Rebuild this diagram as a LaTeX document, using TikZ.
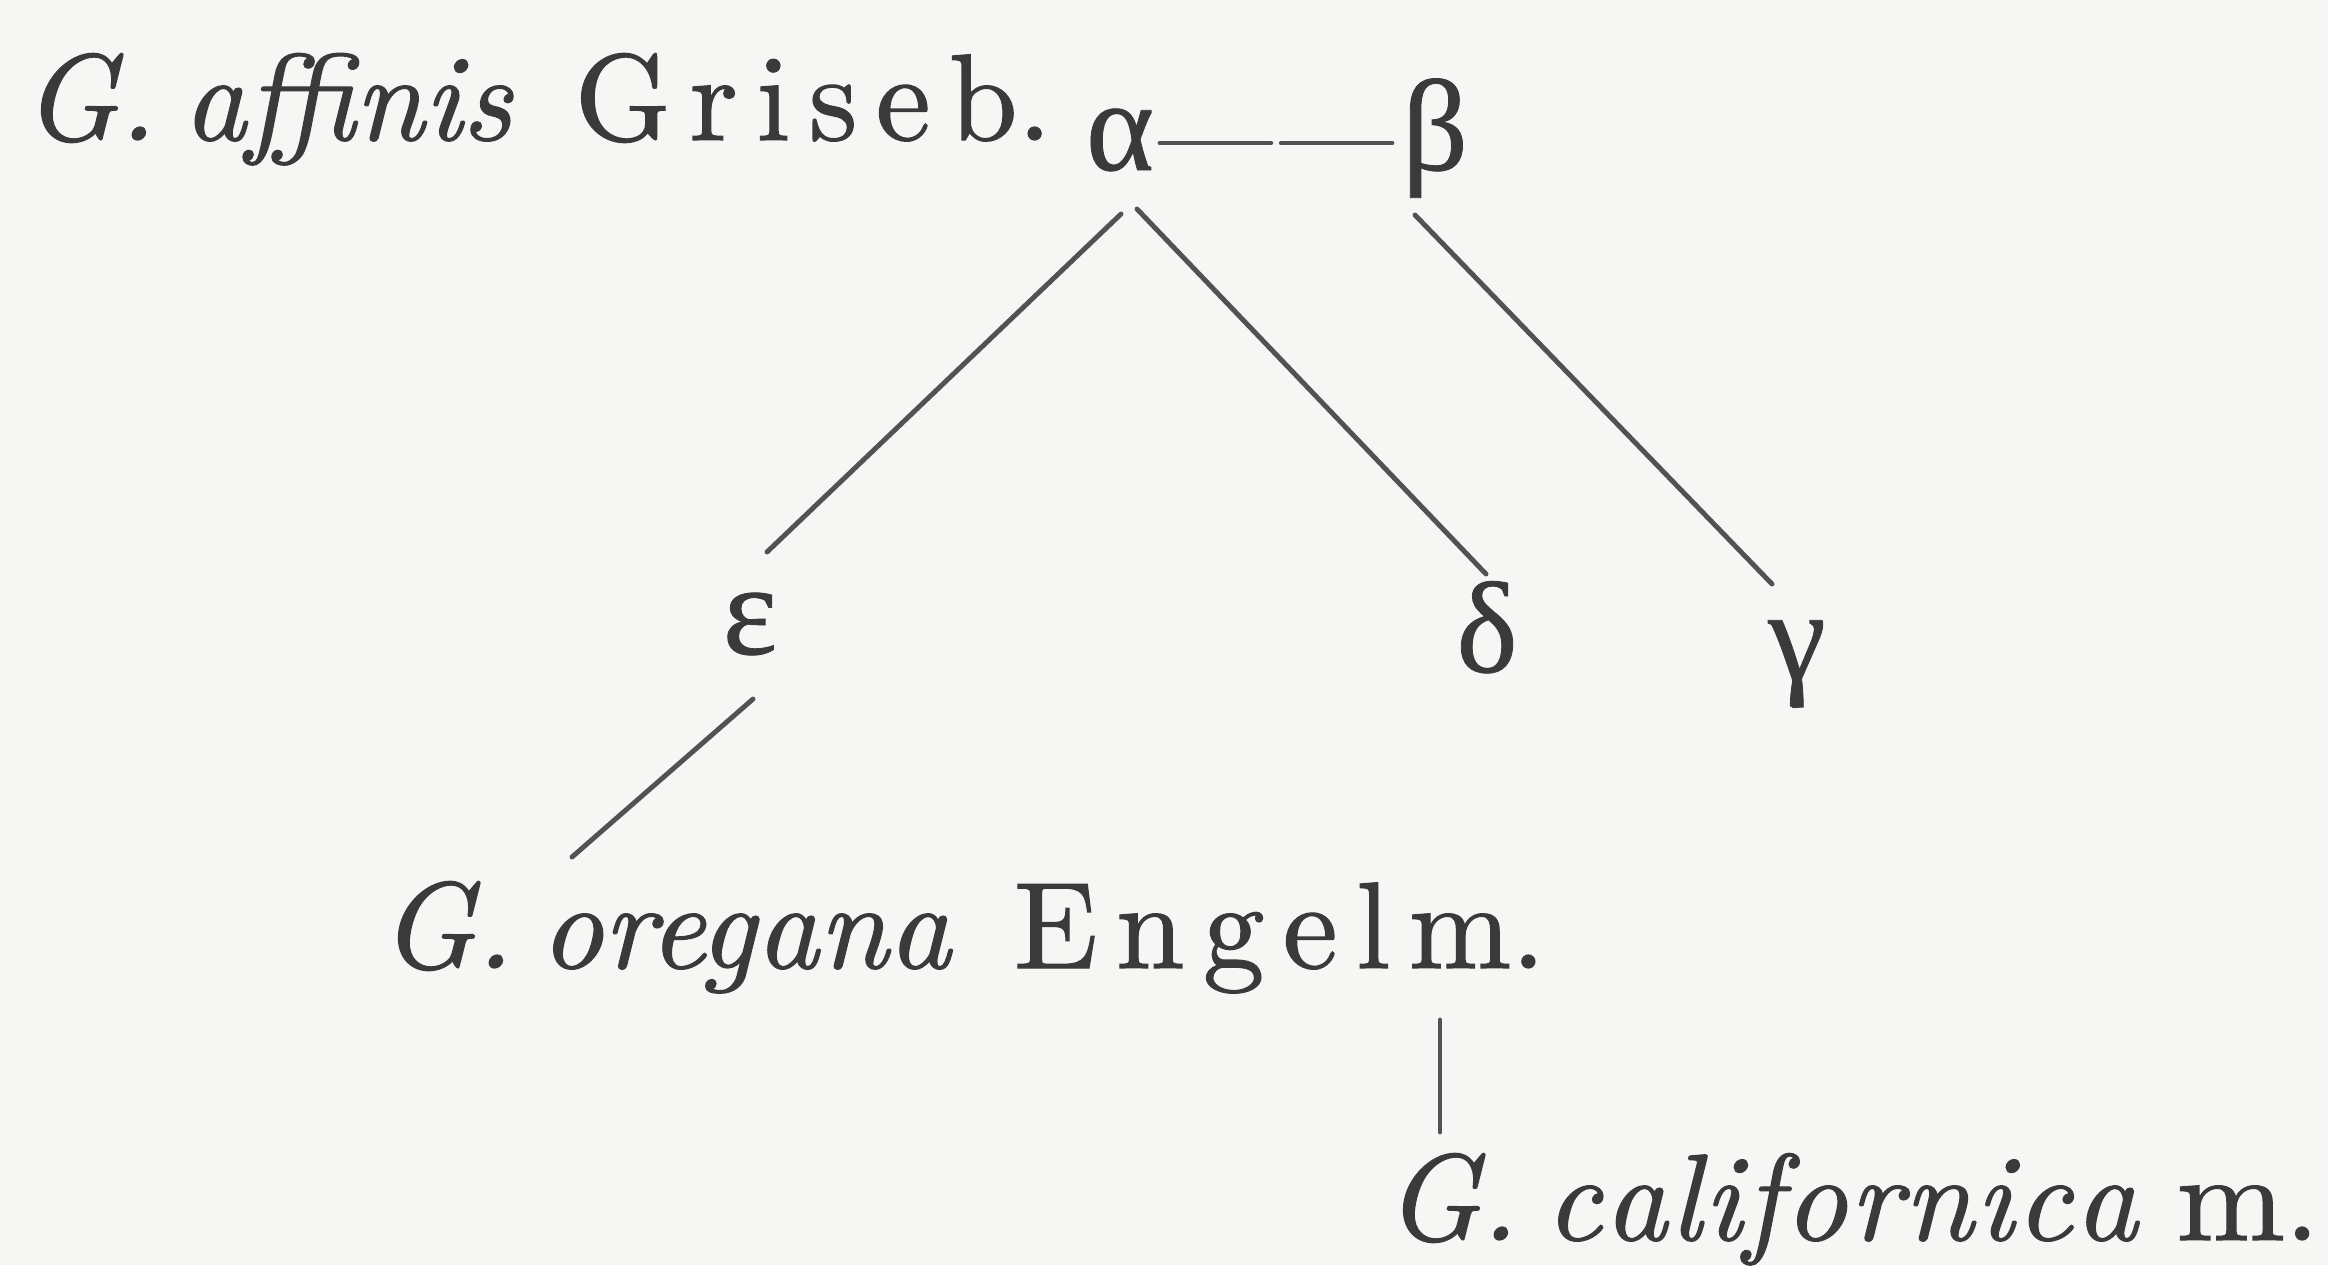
\documentclass[tikz,border=0pt]{standalone}
\usepackage{fontspec}
\setmainfont{lmroman10-regular.otf}[ItalicFont=lmroman10-italic.otf, FakeBold=1]
\newfontfamily\greekfont{Liberation Serif}[FakeBold=0.6]
\definecolor{ink}{RGB}{58,58,58}
\definecolor{lineink}{RGB}{82,82,82}
\definecolor{paper}{RGB}{246,246,244}
\newcommand\lsp{\kern0.15em}
\newcommand\gsp{\hspace{0.22em}}
\newcommand\asp{\/\hspace{0.5em}}
\begin{document}
\begin{tikzpicture}[x=0.01cm,y=-0.01cm,
  lbl/.style={inner sep=0pt, outer sep=0pt, text=ink, font=\fontsize{35}{42}\selectfont},
  glbl/.style={inner sep=0pt, outer sep=0pt, text=ink, font=\greekfont\fontsize{37}{44}\selectfont, anchor=base},
  conn/.style={draw=lineink, line width=1.4pt, line cap=round}]
\fill[paper] (0,0) rectangle (2328,1265);
\useasboundingbox (0,0) rectangle (2328,1265);
\node[lbl, anchor=base west] (affinis) at (23,140) {\textit{G.\gsp affinis}\asp G\lsp r\lsp i\lsp s\lsp e\lsp b.};
\node[glbl] (alpha) at (1120,170) {α};
\node[glbl] (beta) at (1435,170) {β};
\node[glbl] (eps) at (750,654) {ε};
\node[glbl] (delta) at (1487,672) {δ};
\node[glbl] (gamma) at (1797,680) {γ};
\node[lbl, anchor=base west] (oregana) at (380,968) {\textit{G.\gsp oregana}\asp E\lsp n\lsp g\lsp e\lsp l\lsp m.};
\node[lbl, anchor=base west] (calif) at (1385,1240) {\textit{G.\gsp c\kern0.02em a\kern0.02em l\kern0.02em i\kern0.02em f\kern0.02em o\kern0.02em r\kern0.02em n\kern0.02em i\kern0.02em c\kern0.02em a}\/\hspace{0.3em}\scalebox{1.06}[1]{m}.};
\draw[conn, dash pattern=on 31.5pt off 3pt] ([shift={(40,-27)}]alpha.base) -- ([shift={(-43,-27)}]beta.base);
\draw[conn] ([shift={(1,44)}]alpha.base) -- ([shift={(17,-102)}]eps.base);
\draw[conn] ([shift={(17,39)}]alpha.base) -- ([shift={(-1,-98)}]delta.base);
\draw[conn] ([shift={(-20,45)}]beta.base) -- ([shift={(-25,-96)}]gamma.base);
\draw[conn] ([shift={(3,45)}]eps.base) -- ([shift={(192,-111)}]oregana.base west);
\draw[conn] ([shift={(1060,52)}]oregana.base west) -- ([shift={(55,-108)}]calif.base west);
\end{tikzpicture}
\end{document}
